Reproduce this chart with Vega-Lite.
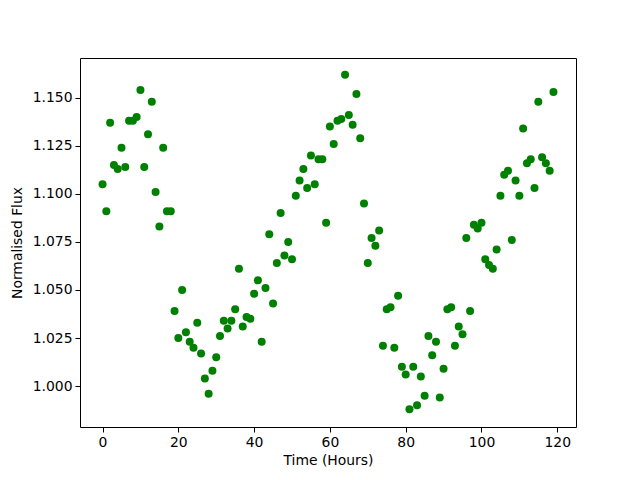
{
  "$schema": "https://vega.github.io/schema/vega-lite/v6.json",
  "width": 496,
  "height": 369,
  "autosize": {"type": "none"},
  "padding": {"left": 80, "top": 58, "right": 64, "bottom": 53},
  "background": "white",
  "config": {
    "view": {"stroke": "black", "strokeWidth": 1},
    "font": "DejaVu Sans",
    "axis": {
      "grid": false,
      "domain": false,
      "tickColor": "black",
      "tickSize": 5,
      "tickWidth": 1,
      "labelColor": "black",
      "labelFont": "DejaVu Sans",
      "labelFontSize": 13.9,
      "labelPadding": 3,
      "titleFont": "DejaVu Sans",
      "titleFontSize": 13.9,
      "titleFontWeight": "normal",
      "titleColor": "black"
    }
  },
  "data": {
    "values": [
      {"t":0,"f":1.105},{"t":1,"f":1.091},{"t":2,"f":1.137},{"t":3,"f":1.115},{"t":4,"f":1.113},
      {"t":5,"f":1.124},{"t":6,"f":1.114},{"t":7,"f":1.138},{"t":8,"f":1.138},{"t":9,"f":1.140},
      {"t":10,"f":1.154},{"t":11,"f":1.114},{"t":12,"f":1.131},{"t":13,"f":1.148},{"t":14,"f":1.101},
      {"t":15,"f":1.083},{"t":16,"f":1.124},{"t":17,"f":1.091},{"t":18,"f":1.091},{"t":19,"f":1.039},
      {"t":20,"f":1.025},{"t":21,"f":1.050},{"t":22,"f":1.028},{"t":23,"f":1.023},{"t":24,"f":1.020},
      {"t":25,"f":1.033},{"t":26,"f":1.017},{"t":27,"f":1.004},{"t":28,"f":0.996},{"t":29,"f":1.008},
      {"t":30,"f":1.015},{"t":31,"f":1.026},{"t":32,"f":1.034},{"t":33,"f":1.030},{"t":34,"f":1.034},
      {"t":35,"f":1.040},{"t":36,"f":1.061},{"t":37,"f":1.031},{"t":38,"f":1.036},{"t":39,"f":1.035},
      {"t":40,"f":1.048},{"t":41,"f":1.055},{"t":42,"f":1.023},{"t":43,"f":1.051},{"t":44,"f":1.079},
      {"t":45,"f":1.043},{"t":46,"f":1.064},{"t":47,"f":1.090},{"t":48,"f":1.068},{"t":49,"f":1.075},
      {"t":50,"f":1.066},{"t":51,"f":1.099},{"t":52,"f":1.107},{"t":53,"f":1.113},{"t":54,"f":1.103},
      {"t":55,"f":1.120},{"t":56,"f":1.105},{"t":57,"f":1.118},{"t":58,"f":1.118},{"t":59,"f":1.085},
      {"t":60,"f":1.135},{"t":61,"f":1.126},{"t":62,"f":1.138},{"t":63,"f":1.139},{"t":64,"f":1.162},
      {"t":65,"f":1.141},{"t":66,"f":1.136},{"t":67,"f":1.152},{"t":68,"f":1.129},{"t":69,"f":1.095},
      {"t":70,"f":1.064},{"t":71,"f":1.077},{"t":72,"f":1.073},{"t":73,"f":1.081},{"t":74,"f":1.021},
      {"t":75,"f":1.040},{"t":76,"f":1.041},{"t":77,"f":1.020},{"t":78,"f":1.047},{"t":79,"f":1.010},
      {"t":80,"f":1.006},{"t":81,"f":0.988},{"t":82,"f":1.010},{"t":83,"f":0.990},{"t":84,"f":1.005},
      {"t":85,"f":0.995},{"t":86,"f":1.026},{"t":87,"f":1.016},{"t":88,"f":1.023},{"t":89,"f":0.994},
      {"t":90,"f":1.009},{"t":91,"f":1.040},{"t":92,"f":1.041},{"t":93,"f":1.021},{"t":94,"f":1.031},
      {"t":95,"f":1.027},{"t":96,"f":1.077},{"t":97,"f":1.039},{"t":98,"f":1.084},{"t":99,"f":1.082},
      {"t":100,"f":1.085},{"t":101,"f":1.066},{"t":102,"f":1.063},{"t":103,"f":1.061},{"t":104,"f":1.071},
      {"t":105,"f":1.099},{"t":106,"f":1.110},{"t":107,"f":1.112},{"t":108,"f":1.076},{"t":109,"f":1.107},
      {"t":110,"f":1.099},{"t":111,"f":1.134},{"t":112,"f":1.116},{"t":113,"f":1.118},{"t":114,"f":1.103},
      {"t":115,"f":1.148},{"t":116,"f":1.119},{"t":117,"f":1.116},{"t":118,"f":1.112},{"t":119,"f":1.153}
    ]
  },
  "mark": {"type": "point", "filled": true, "shape": "circle", "size": 64, "color": "#008000", "opacity": 1},
  "encoding": {
    "x": {
      "field": "t", "type": "quantitative",
      "scale": {"domain": [-5.95, 124.95], "nice": false, "zero": false},
      "axis": {"values": [0, 20, 40, 60, 80, 100, 120], "title": "Time (Hours)", "titlePadding": 5}
    },
    "y": {
      "field": "f", "type": "quantitative",
      "scale": {"domain": [0.9787, 1.1707], "nice": false, "zero": false},
      "axis": {"values": [1.0, 1.025, 1.05, 1.075, 1.1, 1.125, 1.15], "format": ".3f", "title": "Normalised Flux", "titlePadding": 8}
    }
  }
}
